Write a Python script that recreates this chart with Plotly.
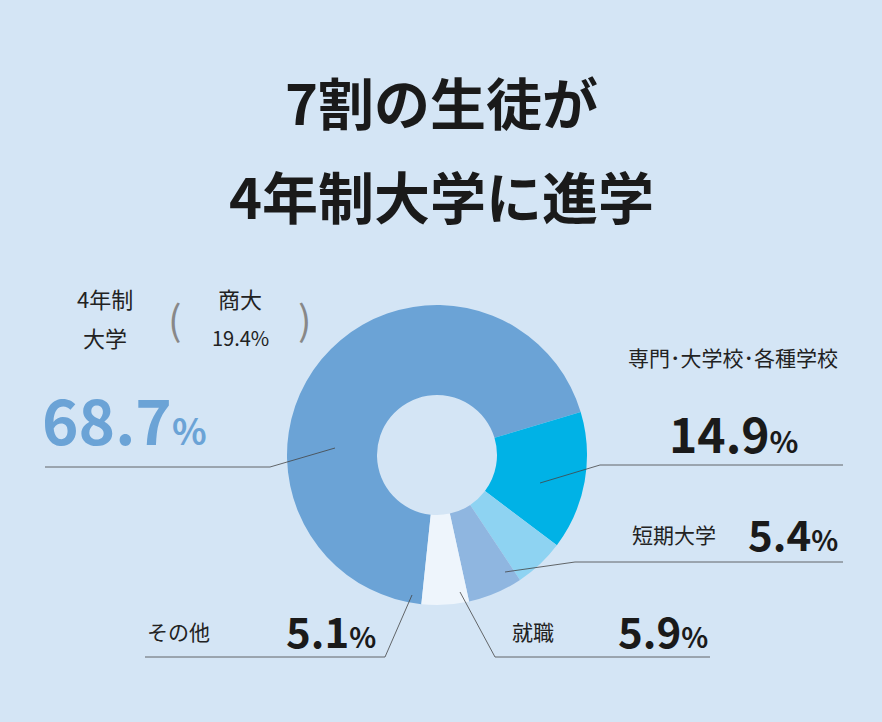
import plotly.graph_objects as go

labels = ["4年制大学", "専門・大学校・各種学校", "短期大学", "就職", "その他"]
values = [68.7, 14.9, 5.4, 5.9, 5.1]
colors = ["#6ba3d6", "#00b2e6", "#8ed3f2", "#8fb6e0", "#eef5fc"]

W, H = 882, 722
def px(x): return x / W
def py(y): return 1 - y / H

fig = go.Figure(go.Pie(
    labels=labels, values=values, hole=0.4, sort=False, direction="clockwise",
    rotation=186, marker=dict(colors=colors, line=dict(width=0)),
    textinfo="none", hoverinfo="label+percent", showlegend=False,
    domain=dict(x=[px(287), px(587)], y=[py(605), py(305)])))

F = "Noto Sans CJK JP"
ann = []
def t(x, y, s, size, color="#222", bold=False, xa="left", w=None):
    ann.append(dict(x=px(x), y=py(y), xref="paper", yref="paper", text=(f"<b>{s}</b>" if bold else s),
                    showarrow=False, xanchor=xa, yanchor="middle",
                    font=dict(family=F, size=size, color=color, weight=w if w else (700 if bold else 400))))

t(441, 100, "7割の生徒が", 56, "#1a1a1a", True, "center", 900)
t(441, 195, "4年制大学に進学", 56, "#1a1a1a", True, "center", 900)
t(105, 298, "4年制", 22, xa="center")
t(105, 337, "大学", 22, xa="center")
t(240, 298, "商大", 22, xa="center")
t(240, 337, "19.4%", 20, xa="center")
t(175, 318, "(", 40, "#888", xa="center")
t(305, 318, ")", 40, "#888", xa="center")
t(40, 418, "68.7<span style='font-size:36px'>%</span>", 62, "#6ba3d6", True, w=900)
t(840, 357, "専門･大学校･各種学校", 21, xa="right")
t(800, 432, "14.9<span style='font-size:30px'>%</span>", 48, "#1a1a1a", True, "right", 900)
t(718, 534, "短期大学", 21, xa="right")
t(840, 532, "5.4<span style='font-size:28px'>%</span>", 42, "#1a1a1a", True, "right", 900)
t(510, 631, "就職", 21)
t(710, 629, "5.9<span style='font-size:28px'>%</span>", 42, "#1a1a1a", True, "right", 900)
t(145, 631, "その他", 21)
t(378, 629, "5.1<span style='font-size:28px'>%</span>", 42, "#1a1a1a", True, "right", 900)

shapes = []
def path(pts):
    d = "M " + " L ".join(f"{px(x)},{py(y)}" for x, y in pts)
    shapes.append(dict(type="path", path=d, xref="paper", yref="paper",
                       line=dict(color="#444", width=0.8)))
path([(45, 467), (270, 467), (335, 448)])
path([(540, 483), (600, 465), (843, 465)])
path([(505, 572), (575, 562), (843, 562)])
path([(460, 592), (495, 657), (710, 657)])
path([(412, 595), (385, 657), (145, 657)])

fig.update_layout(width=W, height=H, margin=dict(l=0, r=0, t=0, b=0),
                  paper_bgcolor="#d4e5f5", plot_bgcolor="#d4e5f5",
                  annotations=ann, shapes=shapes)
fig.write_html("out.html", config={"displayModeBar": False},
               post_script="document.body.style.margin='0';document.body.style.background='#d4e5f5';")
